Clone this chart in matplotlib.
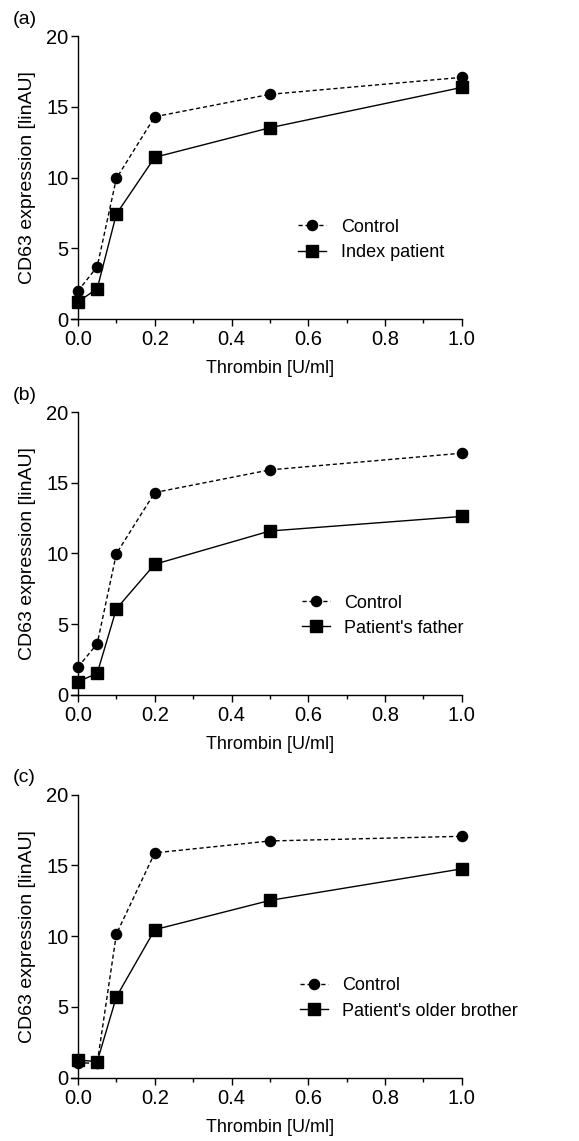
import numpy as np
import matplotlib.pyplot as plt
from matplotlib.ticker import MultipleLocator

plt.rcParams['font.family'] = ['Liberation Sans', 'DejaVu Sans']

# 凝血酶浓度
thrombin = [0.0, 0.05, 0.1, 0.2, 0.5, 1.0]

# 各面板数据
control_a = [1.98, 3.70, 9.94, 14.30, 15.88, 17.08]
index_patient = [1.22, 2.14, 7.42, 11.43, 13.52, 16.37]

control_b = [1.97, 3.62, 9.99, 14.31, 15.91, 17.09]
father = [0.94, 1.53, 6.09, 9.24, 11.59, 12.62]

control_c = [1.06, 1.01, 10.15, 15.89, 16.73, 17.06]
brother = [1.25, 1.13, 5.71, 10.46, 12.53, 14.76]

panel_labels = ['(a)', '(b)', '(c)']
patient_names = ['Index patient', "Patient's father", "Patient's older brother"]
controls = [control_a, control_b, control_c]
patients = [index_patient, father, brother]

fig = plt.figure(figsize=(5.79, 11.41), dpi=100)

bottoms = [0.7204, 0.3909, 0.0555]
legend_x = [0.574, 0.583, 0.578]

for i in range(3):
    ax = fig.add_axes([0.1347, bottoms[i], 0.663, 0.248])
    ax.plot(thrombin, controls[i], color='black', linestyle=(0, (3, 2)), linewidth=1,
            marker='o', markersize=7.3, label='Control', clip_on=False, zorder=3)
    ax.plot(thrombin, patients[i], color='black', linestyle='-', linewidth=1,
            marker='s', markersize=8, label=patient_names[i], clip_on=False, zorder=3)

    ax.set_xlim(0, 1.0)
    ax.set_ylim(0, 20)
    ax.xaxis.set_major_locator(MultipleLocator(0.2))
    ax.xaxis.set_minor_locator(MultipleLocator(0.1))
    ax.yaxis.set_major_locator(MultipleLocator(5))
    ax.xaxis.set_major_formatter(plt.FuncFormatter(lambda v, p: '%.1f' % v))

    ax.spines['top'].set_visible(False)
    ax.spines['right'].set_visible(False)
    ax.spines['left'].set_linewidth(1)
    ax.spines['bottom'].set_linewidth(1)
    ax.spines['bottom'].set_bounds(-0.019, 1.0)

    ax.tick_params(axis='x', which='major', direction='out', length=5, width=1,
                   labelsize=14.5, pad=3)
    ax.tick_params(axis='x', which='minor', direction='out', length=3, width=1)
    ax.tick_params(axis='y', which='major', direction='out', length=5, width=1,
                   labelsize=14.5, pad=2)

    ax.set_xlabel('Thrombin [U/ml]', fontsize=13, labelpad=8)
    ax.set_ylabel('CD63 expression [linAU]', fontsize=14, labelpad=7)

    ax.legend(loc='center left', bbox_to_anchor=(legend_x[i], 0.28), frameon=False,
              fontsize=13, handlelength=1.55, handletextpad=0.8, borderpad=0,
              borderaxespad=0, labelspacing=0.45)

    ax.text(-0.17, 1.06, panel_labels[i], transform=ax.transAxes, fontsize=14,
            ha='left', va='center')

fig.savefig('out.png', dpi=100)
